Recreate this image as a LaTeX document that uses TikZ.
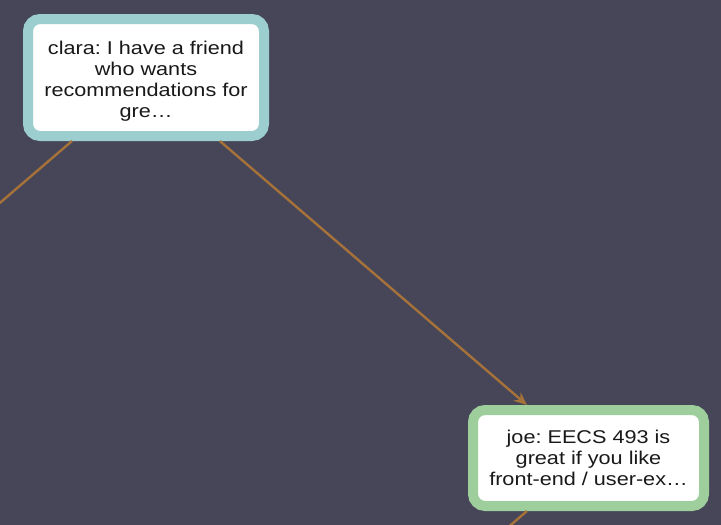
\documentclass[tikz,border=0pt]{standalone}
\usepackage{fontspec}
\setmainfont{Liberation Sans}
\newfontfamily\postfont[FakeStretch=1.17]{Liberation Sans}
\usetikzlibrary{arrows.meta}
\definecolor{bgslate}{RGB}{70,70,88}
\definecolor{clarateal}{RGB}{157,206,207}
\definecolor{joegreen}{RGB}{158,206,156}
\definecolor{linkbrown}{RGB}{166,114,58}
\begin{document}
\frenchspacing
\begin{tikzpicture}[x=1pt, y=-1pt]
        \tikzstyle{post}=[draw, line width=10pt, rounded corners=12pt, fill=white,
          text=black!90, align=center, font=\postfont\fontsize{18.5}{21.2}\selectfont];
        \tikzstyle{link}=[draw=linkbrown, line width=2.4pt, -{Stealth[length=13pt, width=11pt]}];
        \fill[bgslate] (0,0) rectangle (721,525);
        \useasboundingbox (0,0) rectangle (721,525);
        \clip (0,0) rectangle (721,525);
        \node[post, draw=clarateal, minimum width=236pt, minimum height=117pt] (clara) at (146,77.5)
          {\rule{0pt}{6pt}\\[-6pt]clara: I have a friend\\who wants\\recommendations for\\gre\dots};
        \node[post, draw=joegreen, minimum width=231pt, minimum height=96pt] (joe) at (588.5,458)
          {joe: EECS 493 is\\great if you like\\front-end / user-ex\dots};
        \coordinate (offleft) at (-150,331.5);
        \coordinate (offdown) at (440.5,585.5);

        \path
        (clara) edge[link] (joe)
        (clara) edge[link] (offleft)
        (joe) edge[link] (offdown);
      \end{tikzpicture}
\end{document}
